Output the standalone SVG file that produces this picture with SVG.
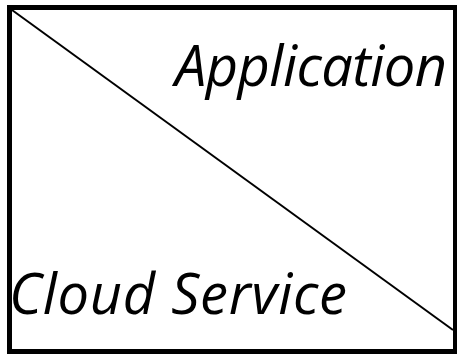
<svg xmlns="http://www.w3.org/2000/svg" width="457" height="356" viewBox="0 0 457 356">
<style>
.lbl{font-family:"Open Sans","Noto Sans",sans-serif;font-style:italic;font-size:56px;fill:#000}
</style>
<rect width="457" height="356" fill="#fff"/>
<g id="frame">
<rect x="9.5" y="7.5" width="446" height="344" fill="none" stroke="#000" stroke-width="5"/>
</g>
<g id="connectors">
<line x1="12" y1="10" x2="453" y2="330" stroke="#000" stroke-width="2"/>
</g>
<g id="application">
<text class="lbl" x="175" y="86" textLength="272" lengthAdjust="spacing">Application</text>
</g>
<g id="cloud-service">
<text class="lbl" x="9" y="314" textLength="338" lengthAdjust="spacing">Cloud Service</text>
</g>
</svg>
